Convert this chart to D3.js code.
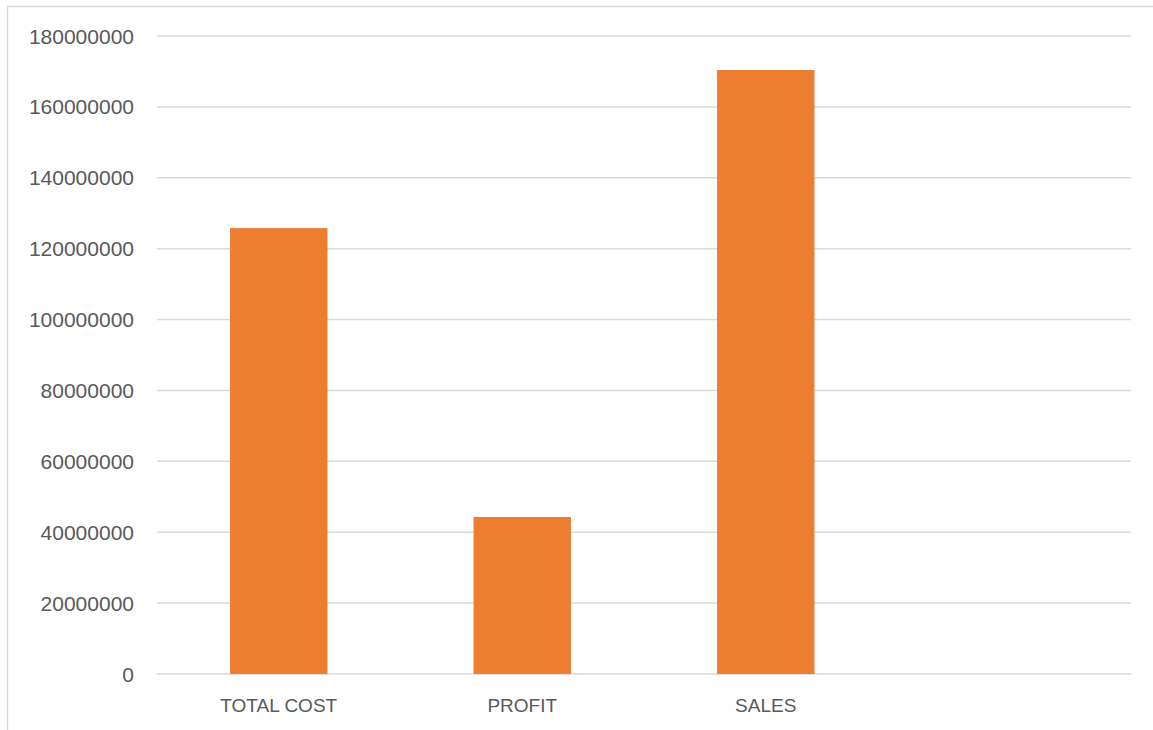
<!DOCTYPE html>
<html>
<head>
<meta charset="utf-8">
<script src="https://cdn.jsdelivr.net/npm/d3@7"></script>
<style>
  body { margin: 0; background: #fff; }
  text { font-family: "Liberation Sans", Arial, sans-serif; fill: #595959; }
</style>
</head>
<body>
<div id="chart"></div>
<script>
// data
var categories = ["TOTAL COST", "PROFIT", "SALES", ""]
var values = [125800000, 44300000, 170400000, null]
var yTicks = [0, 20000000, 40000000, 60000000, 80000000, 100000000, 120000000, 140000000, 160000000, 180000000]

var width = 1153
var height = 730
var plotLeft = 157, plotRight = 1131, plotTop = 36, plotBottom = 674

const svg = d3.select("#chart")
    .append("svg")
    .attr("width", width)
    .attr("height", height)

// chart frame
svg.append("rect")
    .attr("x", 7.5).attr("y", 6.5)
    .attr("width", width + 10).attr("height", height + 10)
    .attr("fill", "none")
    .attr("stroke", "#d9d9d9")
    .attr("stroke-width", 1.5)

var xScale = d3.scaleBand()
    .domain(categories)
    .range([plotLeft, plotRight])
    .paddingInner(0.6)
    .paddingOuter(0.3)

var yScale = d3.scaleLinear()
    .domain([0, 180000000])
    .range([plotBottom, plotTop])

// gridlines
svg.append("g")
    .selectAll("line")
    .data(yTicks)
    .join("line")
    .attr("x1", plotLeft).attr("x2", plotRight)
    .attr("y1", d => yScale(d)).attr("y2", d => yScale(d))
    .attr("stroke", "#d9d9d9")
    .attr("stroke-width", 1.5)

// y labels
svg.append("g")
    .selectAll("text")
    .data(yTicks)
    .join("text")
    .attr("x", 134)
    .attr("y", d => yScale(d))
    .attr("dy", "0.36em")
    .attr("text-anchor", "end")
    .attr("font-size", 21)
    .text(d => d)

// bars
svg.append("g")
    .selectAll("rect")
    .data(categories.map((c, i) => ({ c: c, v: values[i] })).filter(d => d.v !== null))
    .join("rect")
    .attr("x", d => xScale(d.c))
    .attr("width", xScale.bandwidth())
    .attr("y", d => yScale(d.v))
    .attr("height", d => yScale(0) - yScale(d.v))
    .attr("fill", "#ed7d31")

// x labels
svg.append("g")
    .selectAll("text")
    .data(categories)
    .join("text")
    .attr("x", d => xScale(d) + xScale.bandwidth() / 2)
    .attr("y", 712)
    .attr("text-anchor", "middle")
    .attr("font-size", 19)
    .text(d => d)
</script>
</body>
</html>
